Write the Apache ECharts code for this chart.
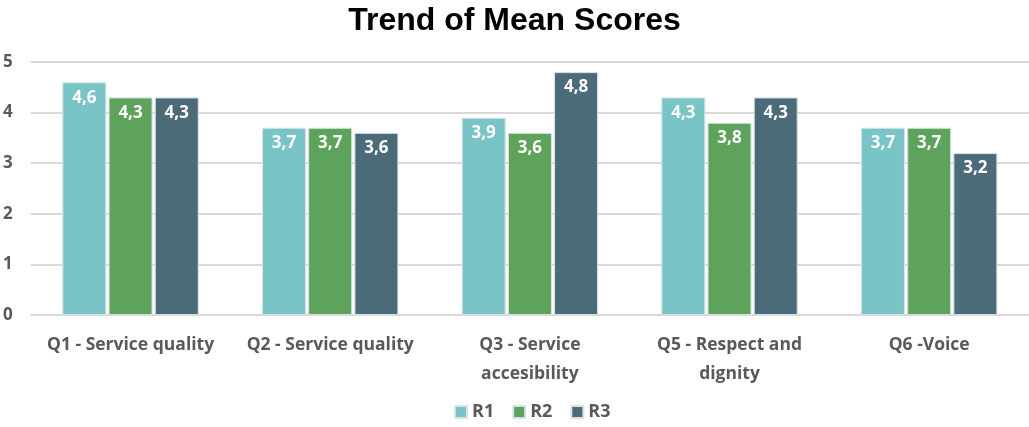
<!DOCTYPE html>
<html><head><meta charset="utf-8">
<script src="https://cdn.jsdelivr.net/npm/echarts@6/dist/echarts.min.js"></script>
<style>html,body{margin:0;padding:0;background:#fff}#c{width:1029px;height:427px}</style>
</head><body><div id="c"></div>
<script>
const categories = ["Q1 - Service quality", "Q2 - Service quality", "Q3 - Service\naccesibility", "Q5 - Respect and\ndignity", "Q6 -Voice"];
const seriesNames = ["R1", "R2", "R3"];
const r1 = [4.6, 3.7, 3.9, 4.3, 3.7];
const r2 = [4.3, 3.7, 3.6, 3.8, 3.7];
const r3 = [4.3, 3.6, 4.8, 4.3, 3.2];
const colors = ["#78C4C6", "#5EA35B", "#4C6B79"];
const font = "'Open Sans', Lato, sans-serif";
const chart = echarts.init(document.getElementById('c'));
const mk = (name, data, color) => ({
  name, type: 'bar', data, barWidth: 44, barGap: '5%',
  itemStyle: { color, borderColor: '#d9e3e6', borderWidth: 1 },
  label: { show: true, position: 'insideTop', distance: 7, color: '#fff', fontWeight: 'bold',
    fontSize: 17, fontFamily: font, formatter: p => String(p.value.toFixed(1)).replace('.', ',') }
});
chart.setOption({
  animation: false,
  title: { text: 'Trend of Mean Scores', left: 'center', top: 0,
    textStyle: { fontFamily: "'Liberation Sans', Arial, sans-serif", fontWeight: 'bold', fontSize: 32, color: '#000' } },
  legend: { bottom: 1, left: 449, itemWidth: 12, itemHeight: 12, itemGap: 18,
    icon: 'rect', textStyle: { fontFamily: font, fontWeight: 'bold', fontSize: 18, color: '#595959' } },
  grid: { left: 30, right: 0, top: 62, bottom: 112 },
  xAxis: { type: 'category', data: categories,
    axisLine: { lineStyle: { color: '#d9d9d9', width: 1 } }, axisTick: { show: false },
    axisLabel: { fontFamily: font, fontWeight: 'bold', fontSize: 17.5, color: '#595959', margin: 16, lineHeight: 29, interval: 0 } },
  yAxis: { type: 'value', min: 0, max: 5, interval: 1,
    splitLine: { lineStyle: { color: '#d9d9d9', width: 2 } },
    axisLabel: { fontFamily: font, fontWeight: 'bold', fontSize: 17, color: '#595959', margin: 18 } },
  series: [mk(seriesNames[0], r1, colors[0]), mk(seriesNames[1], r2, colors[1]), mk(seriesNames[2], r3, colors[2])]
});
</script></body></html>
